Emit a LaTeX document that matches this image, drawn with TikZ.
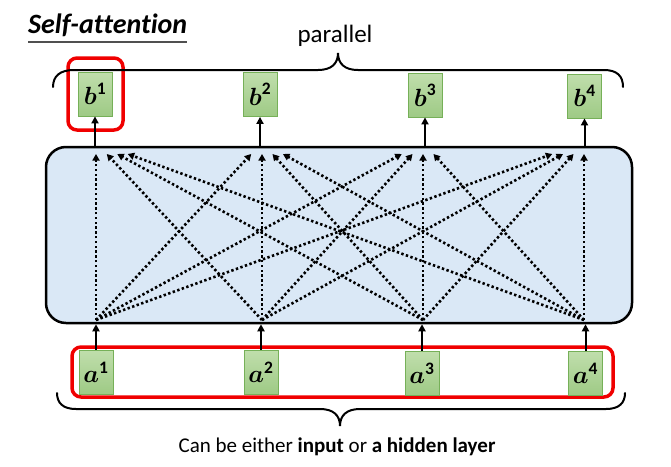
\documentclass[tikz,border=0pt]{standalone}
\usepackage{amsmath}
\usepackage{fontspec}
\setmainfont[Ligatures=NoCommon]{Carlito}
\usetikzlibrary{arrows.meta,calc}
\definecolor{attnfill}{RGB}{218,232,246}
\definecolor{vectop}{RGB}{192,222,172}
\definecolor{vecbot}{RGB}{158,202,133}
\definecolor{vecborder}{RGB}{118,176,88}
\definecolor{redc}{RGB}{240,0,0}
\definecolor{ulc}{RGB}{80,80,80}
\begin{document}
\begin{tikzpicture}[x=1pt,y=-1pt,
  vec/.style={draw=vecborder, line width=0.8pt, top color=vectop, bottom color=vecbot,
    minimum width=34pt, minimum height=44pt, inner sep=0pt, font=\fontsize{25}{28}\selectfont},
  solidarrow/.style={line width=2pt, -{Triangle[length=7pt,width=7pt]}},
  dotarrow/.style={line width=2.6pt, dash pattern=on 2.4pt off 2.4pt, -{Triangle[length=6.5pt,width=7pt]}},
  redbox/.style={draw=redc, line width=3.5pt, rounded corners=9pt, inner sep=0pt},
  brace/.style={line width=2pt, line cap=round},
  attnbox/.style={draw, line width=2.5pt, rounded corners=20pt, fill=attnfill, inner sep=0pt}]
\useasboundingbox (0,0) rectangle (671,466);

% attention block
\node[attnbox, minimum width=586pt, minimum height=176pt] (attn) at (339,235) {};

% dotted connections
\foreach \i/\x in {1/96,2/262,3/423,4/584} {
  \coordinate (s\i) at (\x,320);
  \coordinate (t\i) at (\x,154);
}
\foreach \i/\xi in {1/96,2/262,3/423,4/584} {
  \foreach \j/\xj in {1/96,2/262,3/423,4/584} {
    \draw[dotarrow] (s\i) -- ([xshift={0.065*(\xi-\xj)}]t\j);
  }
}

% red highlight boxes
\node[redbox, minimum width=55pt, minimum height=72pt] (rb1) at (95.5,94) {};
\node[redbox, minimum width=541pt, minimum height=50pt] (rb2) at (342.5,372) {};

% output vectors
\node[vec] (b1) at (95,94) {$\boldsymbol{b}^{\mathbf{1}}$};
\node[vec] (b2) at (260,94.5) {$\boldsymbol{b}^{\mathbf{2}}$};
\node[vec] (b3) at (425,95) {$\boldsymbol{b}^{\mathbf{3}}$};
\node[vec] (b4) at (584.5,96) {$\boldsymbol{b}^{\mathbf{4}}$};

% input vectors
\node[vec] (a1) at (96,372) {$\boldsymbol{a}^{\mathbf{1}}$};
\node[vec] (a2) at (261,372) {$\boldsymbol{a}^{\mathbf{2}}$};
\node[vec] (a3) at (422,373.5) {$\boldsymbol{a}^{\mathbf{3}}$};
\node[vec] (a4) at (585.5,373.5) {$\boldsymbol{a}^{\mathbf{4}}$};

% solid arrows
\foreach \k in {1,2,3,4} {
  \draw[solidarrow] (attn.north -| b\k) -- (b\k.south);
  \draw[solidarrow] (a\k.north) -- (a\k.north |- attn.south);
}

% braces
\draw[brace] (53,87) .. controls (53,76) and (60,70) .. (74,70) -- (318,70)
  .. controls (331,70) and (338,64) .. (338,53)
  .. controls (338,64) and (345,70) .. (358,70) -- (604,70)
  .. controls (617,70) and (623,76) .. (623,87);
\draw[brace] (57,393) .. controls (57,403) and (63,409) .. (76,409) -- (320,409)
  .. controls (333,409) and (340,415) .. (340,426)
  .. controls (340,415) and (347,409) .. (360,409) -- (606,409)
  .. controls (619,409) and (625,403) .. (625,393);

% texts
\node[anchor=base west, inner sep=0pt, font=\fontsize{28}{32}\selectfont\bfseries\itshape] (title) at (28,33) {Self-attention};
\draw[ulc, line width=1.5pt] ([yshift=-9pt]title.base west) -- ([yshift=-9pt]title.base east);
\node[anchor=base, inner sep=0pt, font=\fontsize{25}{30}\selectfont] (par) at (335,42) {parallel};
\node[anchor=base, inner sep=0pt, font=\fontsize{21}{25}\selectfont] (cap) at (337,452) {Can be either \textbf{input} or \textbf{a hidden layer}};
\end{tikzpicture}
\end{document}
